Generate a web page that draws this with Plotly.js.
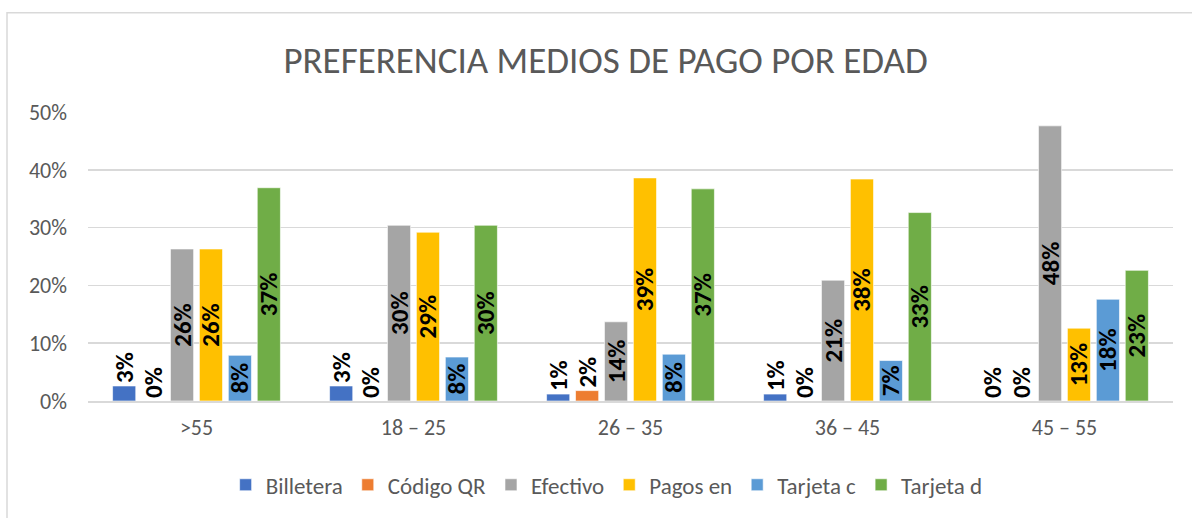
<!DOCTYPE html>
<html>
<head>
<meta charset="utf-8">
<script src="https://cdn.plot.ly/plotly-3.0.1.min.js"></script>
<style>html,body{margin:0;padding:0;background:#fff;}#chart{width:1192px;height:518px;}</style>
</head>
<body>
<div id="chart"></div>
<script>
const categories = [">55", "18 – 25", "26 – 35", "36 – 45", "45 – 55"];
const seriesNames = ["Billetera", "Código QR", "Efectivo", "Pagos en", "Tarjeta c", "Tarjeta d"];
const billetera = [0.026, 0.026, 0.012, 0.012, 0.0];
const codigoQR  = [0.0, 0.0, 0.018, 0.0, 0.0];
const efectivo  = [0.263, 0.304, 0.137, 0.209, 0.476];
const pagosEn   = [0.263, 0.292, 0.386, 0.384, 0.126];
const tarjetaC  = [0.079, 0.076, 0.081, 0.070, 0.176];
const tarjetaD  = [0.369, 0.304, 0.367, 0.326, 0.226];
const seriesValues = [billetera, codigoQR, efectivo, pagosEn, tarjetaC, tarjetaD];
const colors = ["#4472C4", "#ED7D31", "#A5A5A5", "#FFC000", "#5B9BD5", "#70AD47"];
const yTickVals = [0, 0.1, 0.2, 0.3, 0.4, 0.5];
const yTickText = ["0%", "10%", "20%", "30%", "40%", "50%"];

const FONT = "Carlito, Lato, 'Open Sans', sans-serif";
const LABEL = {family: FONT, size: 25, color: "#000000", weight: "bold"};

const traces = seriesValues.map((vals, i) => ({
  type: "bar",
  name: seriesNames[i],
  x: categories,
  y: vals,
  marker: {color: colors[i], line: {color: "rgba(255,255,255,0.6)", width: 1}},
  texttemplate: "%{y:.0%}",
  textposition: vals.map(v => v >= 0.05 ? "inside" : "outside"),
  insidetextanchor: "middle",
  textangle: -90,
  constraintext: "none",
  cliponaxis: false,
  textfont: LABEL,
  insidetextfont: LABEL,
  outsidetextfont: LABEL,
  hoverinfo: "x+y+name"
}));

const layout = {
  width: 1192, height: 518,
  margin: {l: 88, r: 19, t: 112, b: 115},
  paper_bgcolor: "#ffffff",
  plot_bgcolor: "#ffffff",
  barmode: "group",
  bargap: 0.2,
  bargroupgap: 0.2,
  uniformtext: {mode: "show", minsize: 25},
  title: {
    text: "PREFERENCIA MEDIOS DE PAGO POR EDAD",
    font: {family: FONT, size: 37, color: "#595959"},
    x: 0.508, xanchor: "center", y: 0.885, yanchor: "middle"
  },
  xaxis: {
    type: "category",
    showline: true, linecolor: "#D9D9D9", linewidth: 1.5,
    tickfont: {family: FONT, size: 22, color: "#595959"},
    ticks: "", ticklabelstandoff: 6, showgrid: false, zeroline: false, fixedrange: true
  },
  yaxis: {
    range: [0, 0.5],
    tickvals: yTickVals, ticktext: yTickText,
    tickfont: {family: FONT, size: 22, color: "#595959"},
    showgrid: true, gridcolor: "#D9D9D9", gridwidth: 1.5,
    zeroline: false, showline: false, ticks: "", ticklen: 0,
    ticklabelstandoff: 20,
    fixedrange: true
  },
  legend: {
    orientation: "h", x: 0.478, xanchor: "center", y: -0.29, yanchor: "middle",
    font: {family: FONT, size: 23, color: "#595959"},
    itemwidth: 30, traceorder: "normal"
  },
  showlegend: true,
  shapes: [{
    type: "rect", xref: "paper", yref: "paper",
    x0: (7 - 88) / 1085, x1: (1210 - 88) / 1085,
    y0: (403 - 540) / 291, y1: (403 - 12) / 291,
    line: {color: "#D9D9D9", width: 1.5}, fillcolor: "rgba(0,0,0,0)", layer: "below"
  }]
};

Plotly.newPlot("chart", traces, layout, {displayModeBar: false, staticPlot: true});
</script>
</body>
</html>
